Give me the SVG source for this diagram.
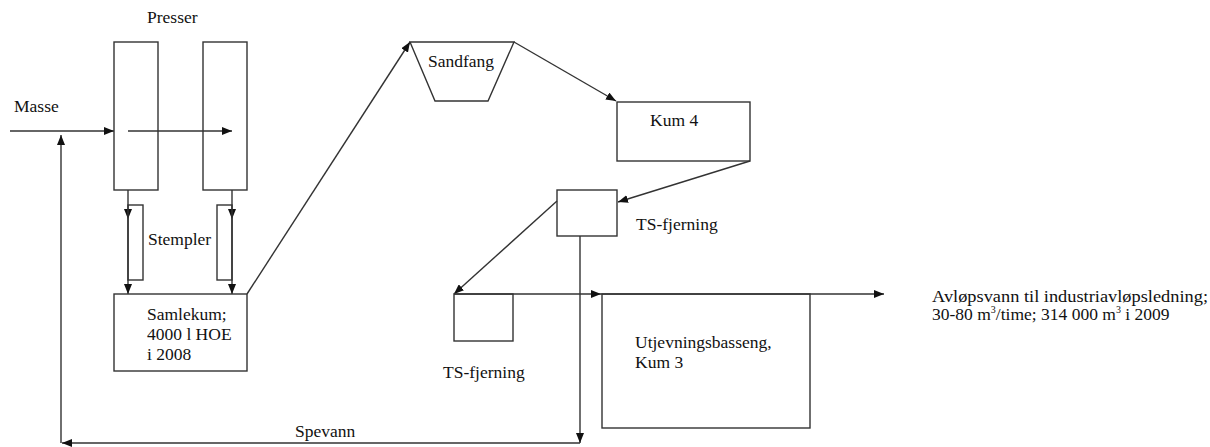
<svg xmlns="http://www.w3.org/2000/svg" width="1210" height="447" viewBox="0 0 1210 447">
<style>
.box{fill:none;stroke:#333;stroke-width:1.4}
.ln{fill:none;stroke:#333;stroke-width:1.4}
.arr{marker-end:url(#ah)}
.t{font-family:'Liberation Serif','Times New Roman','DejaVu Serif',serif;font-size:17.5px;fill:#111}
</style>
<defs>
<marker id="ah" markerWidth="10" markerHeight="8" refX="10" refY="4" orient="auto" markerUnits="userSpaceOnUse">
<path d="M0,0 L10,4 L0,8 Z" fill="#111"/>
</marker>
</defs>
<rect width="1210" height="447" fill="#fff"/>
<g id="connectors">
<line class="ln arr" x1="10" y1="131" x2="114" y2="131"/>
<line class="ln arr" x1="128" y1="131" x2="232" y2="131"/>
<line class="ln arr" x1="128" y1="190" x2="128" y2="219"/>
<line class="ln arr" x1="128" y1="219" x2="128" y2="294"/>
<line class="ln arr" x1="232" y1="190" x2="232" y2="219"/>
<line class="ln arr" x1="232" y1="219" x2="232" y2="294"/>
<line class="ln arr" x1="247" y1="294" x2="410" y2="42"/>
<line class="ln arr" x1="514" y1="42" x2="616" y2="101"/>
<line class="ln arr" x1="750" y1="161" x2="618" y2="202"/>
<line class="ln arr" x1="557" y1="201" x2="454" y2="294"/>
<line class="ln arr" x1="454" y1="294" x2="601" y2="294"/>
<line class="ln arr" x1="601" y1="294" x2="884" y2="294"/>
<line class="ln arr" x1="580" y1="236" x2="580" y2="443"/>
<line class="ln arr" x1="580" y1="443" x2="62" y2="443"/>
<line class="ln arr" x1="61" y1="443" x2="61" y2="135"/>
</g>
<g id="presser">
<rect class="box" x="114" y="42" width="44" height="148"/>
<rect class="box" x="203" y="42" width="44" height="148"/>
<text class="t" x="147" y="23">Presser</text>
</g>
<g id="masse"><text class="t" x="14" y="112">Masse</text></g>
<g id="stempler">
<rect class="box" x="128" y="205" width="15" height="75"/>
<rect class="box" x="217" y="205" width="15" height="75"/>
<text class="t" x="148" y="245">Stempler</text>
</g>
<g id="samlekum">
<rect class="box" x="114" y="294" width="133" height="77"/>
<text class="t" x="147" y="320">Samlekum;</text>
<text class="t" x="147" y="340">4000 l HOE</text>
<text class="t" x="147" y="360">i 2008</text>
</g>
<g id="sandfang">
<polygon class="box" points="410,42 514,42 488,101 435,101"/>
<text class="t" x="428" y="67">Sandfang</text>
</g>
<g id="kum4">
<rect class="box" x="617" y="102" width="133" height="59"/>
<text class="t" x="650" y="126">Kum 4</text>
</g>
<g id="ts1">
<rect class="box" x="557" y="190" width="60" height="46"/>
<text class="t" x="636" y="230">TS-fjerning</text>
</g>
<g id="ts2">
<rect class="box" x="454" y="294" width="59" height="47"/>
<text class="t" x="443" y="378">TS-fjerning</text>
</g>
<g id="utjevning">
<rect class="box" x="602" y="294" width="208" height="134"/>
<text class="t" x="635" y="348">Utjevningsbasseng,</text>
<text class="t" x="635" y="368">Kum 3</text>
</g>
<g id="spevann"><text class="t" x="295" y="437">Spevann</text></g>
<g id="avlop">
<text class="t" x="932" y="302" textLength="276" lengthAdjust="spacingAndGlyphs">Avløpsvann til industriavløpsledning;</text>
<text class="t" x="932" y="320">30-80 m<tspan font-size="10" dy="-7">3</tspan><tspan dy="7">/time; 314 000 m</tspan><tspan font-size="10" dy="-7">3</tspan><tspan dy="7"> i 2009</tspan></text>
</g>
</svg>
